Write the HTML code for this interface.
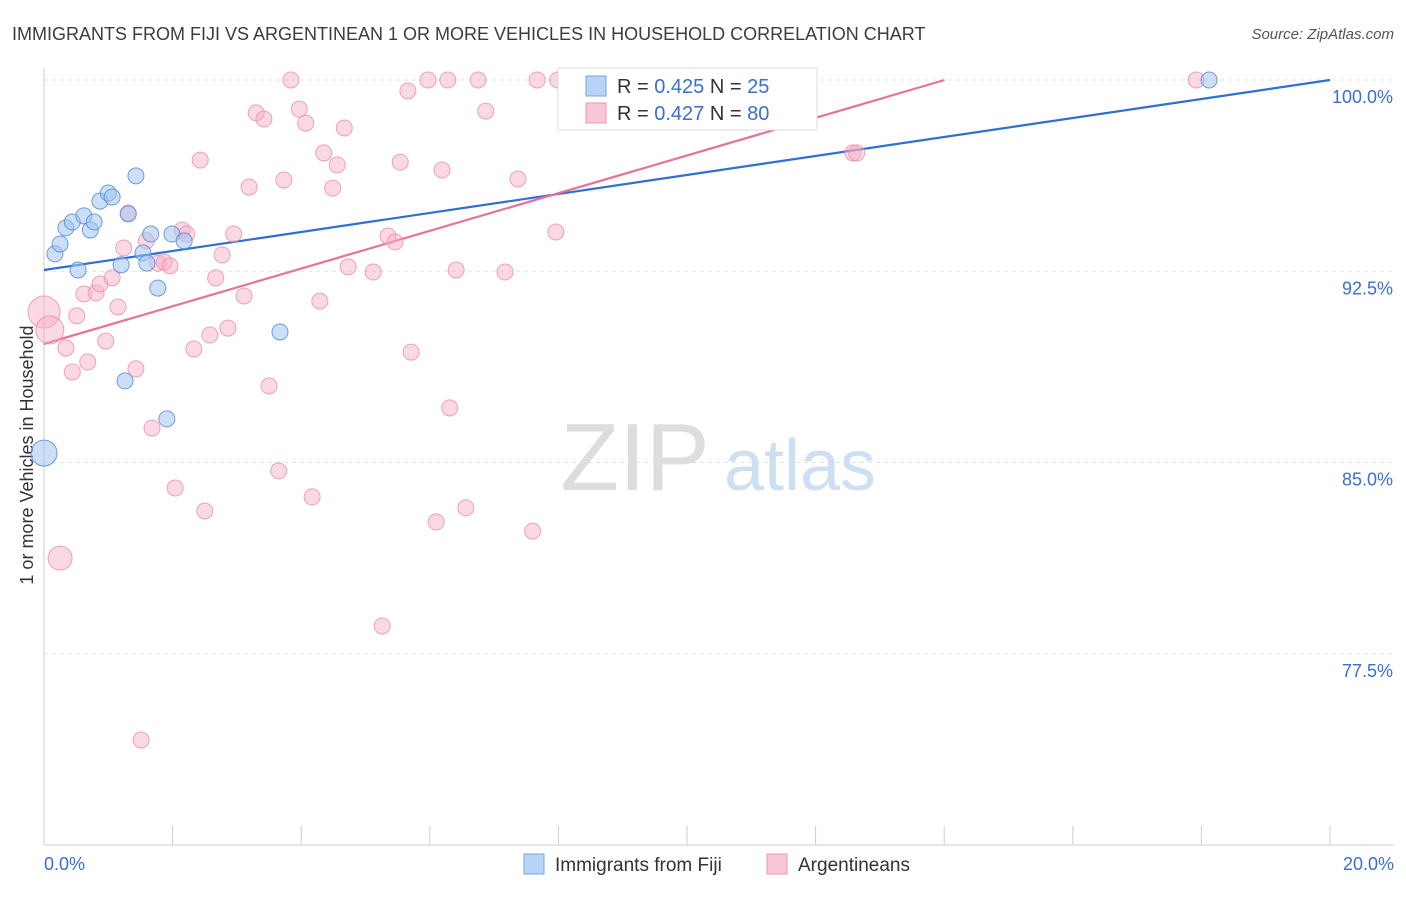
<!DOCTYPE html>
<html><head><meta charset="utf-8">
<style>
body{margin:0;background:#fff;font-family:"Liberation Sans",sans-serif;}
svg text{font-family:"Liberation Sans",sans-serif;}
</style></head>
<body>
<svg id="chart" width="1406" height="892" xmlns="http://www.w3.org/2000/svg">
<text x="12" y="40" font-size="18" fill="#3c3c3c">IMMIGRANTS FROM FIJI VS ARGENTINEAN 1 OR MORE VEHICLES IN HOUSEHOLD CORRELATION CHART</text>
<text x="1394" y="39" font-size="15" fill="#555" text-anchor="end" font-style="italic">Source: ZipAtlas.com</text>
<text transform="translate(33,455) rotate(-90)" font-size="18" fill="#333" text-anchor="middle">1 or more Vehicles in Household</text>
<g>
<text x="635" y="490" font-size="96" fill="#ddd" font-family="Liberation Serif" text-anchor="middle">ZIP</text>
<text x="800" y="490" font-size="72" fill="#cfdff2" text-anchor="middle">atlas</text>
</g>
<g id="grid"></g>
<g id="axes"></g>
<g id="lines"></g>
<g id="points"></g>
<g>
<rect x="558" y="68" width="259" height="62" fill="#fff" stroke="#ddd"/>
<rect x="586" y="76" width="20" height="20" fill="#b7d3f5" stroke="#7aa7e0"/>
<text x="617" y="93" font-size="20" fill="#333">R = <tspan fill="#3a6fd0">0.425</tspan>   N =  <tspan fill="#3a6fd0">25</tspan></text>
<rect x="586" y="103" width="20" height="20" fill="#f9c6d6" stroke="#ec95b2"/>
<text x="617" y="120" font-size="20" fill="#333">R = <tspan fill="#3a6fd0">0.427</tspan>   N = <tspan fill="#3a6fd0">80</tspan></text>
</g>
<g>
<rect x="524" y="854" width="20" height="20" fill="#b7d3f5" stroke="#7aa7e0"/>
<text x="555" y="871" font-size="19" fill="#333">Immigrants from Fiji</text>
<rect x="767" y="854" width="20" height="20" fill="#f9c6d6" stroke="#ec95b2"/>
<text x="798" y="871" font-size="19" fill="#333">Argentineans</text>
</g>
</svg>
<script>
const fijiX=[0,0.17,0.25,0.34,0.44,0.53,0.62,0.72,0.78,0.87,1.00,1.06,1.20,1.26,1.31,1.43,1.54,1.60,1.66,1.77,1.91,1.99,2.18,3.67,18.12];
const fijiY=[85.37,93.18,93.57,94.20,94.43,92.55,94.67,94.12,94.43,95.25,95.57,95.41,92.75,88.20,94.75,96.24,93.22,92.82,93.96,91.84,86.71,93.96,93.69,90.12,100];
const fijiR=[13,8,8,8,8,8,8,8,8,8,8,8,8,8,8,8,8,8,8,8,8,8,8,8,8];
const argX=[0,0.09,0.25,0.34,0.44,0.51,0.62,0.68,0.81,0.87,0.96,1.06,1.15,1.24,1.31,1.43,1.51,1.59,1.68,1.77,1.87,1.96,2.04,2.15,2.22,2.33,2.43,2.50,2.58,2.67,2.77,2.86,2.95,3.11,3.19,3.30,3.42,3.50,3.65,3.73,3.84,3.97,4.07,4.17,4.29,4.35,4.49,4.56,4.67,4.73,5.12,5.26,5.35,5.46,5.54,5.66,5.71,5.97,6.10,6.19,6.28,6.31,6.41,6.56,6.75,6.87,7.17,7.37,7.60,7.67,7.96,7.99,8.21,9.24,10.39,12.58,12.64,17.92];
const argY=[90.90,90.20,81.25,89.49,88.55,90.75,91.61,88.94,91.65,92.00,89.76,92.24,91.10,93.41,94.78,88.67,74.12,93.69,86.35,92.82,92.86,92.71,84.00,94.12,93.96,89.45,96.86,83.10,90.00,92.24,93.14,90.27,93.96,91.53,95.80,98.71,98.47,88.00,84.67,96.08,100,98.86,98.31,83.65,91.33,97.14,95.76,96.67,98.12,92.67,92.47,78.59,93.88,93.65,96.78,99.57,89.33,100,82.67,96.47,100,87.14,92.55,83.22,100,98.78,92.47,96.12,82.31,100,94.04,100,100,100,100,97.14,97.14,100];
const argR=[16,14,12];
const yTicks=[100,92.5,85,77.5];
const yTickLabels=["100.0%","92.5%","85.0%","77.5%"];
const xTicks=[0,2,4,6,8,10,12,14,16,18,20];
const trendFiji=[92.55,0.3725];
const trendArg=[89.65,0.739];

const NS="http://www.w3.org/2000/svg";
const X0=44,X1=1330,YT=80,YB=845;
function sx(v){return X0+v*(X1-X0)/20;}
function sy(v){return YT+(100-v)*(YB-YT)/30;}
function mk(tag,attrs,parent){const e=document.createElementNS(NS,tag);for(const k in attrs)e.setAttribute(k,attrs[k]);document.getElementById(parent).appendChild(e);return e;}

yTicks.forEach((t,i)=>{
  const g=mk('line',{x1:X0,x2:1394,y1:sy(t),y2:sy(t),stroke:'#e2e2e2','stroke-dasharray':'4,4'},'grid');
  
  
  const tx=mk('text',{x:1393,y:sy(t)+23,'font-size':18,fill:'#3a6fd0','text-anchor':'end'},'grid');
  tx.textContent=yTickLabels[i];
  
  
});
const ax=mk('line',{x1:X0,x2:1394,y1:YB,y2:YB,stroke:'#ccc'},'axes');


const ay=mk('line',{x1:X0,x2:X0,y1:68,y2:YB,stroke:'#ccc'},'axes');


xTicks.forEach(t=>{
  const l=mk('line',{x1:sx(t),x2:sx(t),y1:826,y2:YB,stroke:'#ccc'},'axes');
  
  
});
const xl0=mk('text',{x:44,y:870,'font-size':18,fill:'#3a6fd0'},'axes');xl0.textContent='0.0%';


const xl1=mk('text',{x:1394,y:870,'font-size':18,fill:'#3a6fd0','text-anchor':'end'},'axes');xl1.textContent='20.0%';



argX.forEach((x,i)=>{
  const c=mk('circle',{cx:sx(x),cy:sy(argY[i]),r:argR[i]||8,fill:'rgba(246,170,195,0.45)',stroke:'rgba(236,140,172,0.8)','stroke-width':1},'points');
  
  
});
fijiX.forEach((x,i)=>{
  const c=mk('circle',{cx:sx(x),cy:sy(fijiY[i]),r:fijiR[i],fill:'rgba(160,196,240,0.55)',stroke:'rgba(90,140,210,0.85)','stroke-width':1},'points');
  
  
});
function trend(t,color,name){
  let xe=20,ye=t[0]+t[1]*20;
  if(ye>100){xe=(100-t[0])/t[1];ye=100;}
  const l=mk('line',{x1:sx(0),y1:sy(t[0]),x2:sx(xe),y2:sy(ye),stroke:color,'stroke-width':2.2},'lines');
  
  
}
trend(trendFiji,'#2f6fd4','fiji-trend-line');
trend(trendArg,'#e8719a','argentineans-trend-line');
</script>
</body></html>
